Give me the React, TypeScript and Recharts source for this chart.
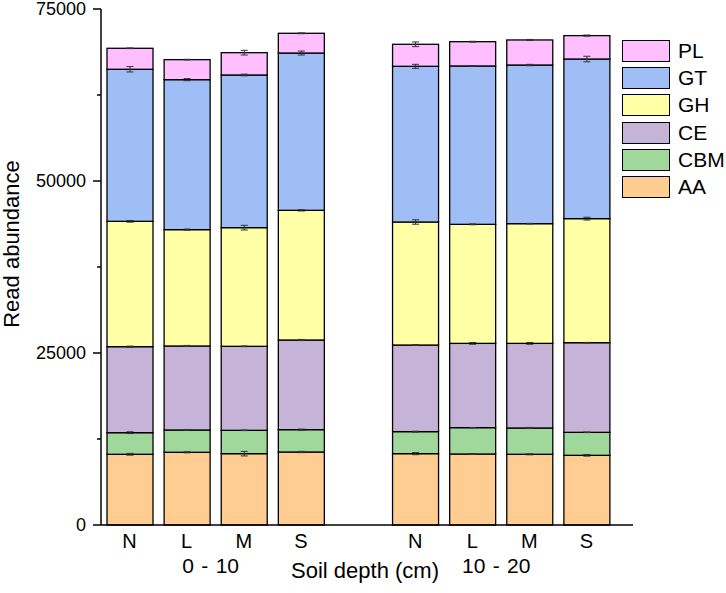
import { Bar, BarChart, Legend, XAxis, YAxis } from "recharts";

const FONT = '"Liberation Sans", Arial, sans-serif';

// soil depth groups and treatments
const DEPTHS = ["0 - 10", "10 - 20"];
const TREATMENTS = ["N", "L", "M", "S"];

// segment sizes per bar (N,L,M,S for 0-10 then N,L,M,S for 10-20)
const AA = [10280, 10570, 10370, 10610, 10370, 10320, 10280, 10130];
const CBM = [3140, 3240, 3390, 3250, 3200, 3830, 3820, 3340];
const CE = [12500, 12210, 12210, 13030, 12590, 12250, 12300, 13030];
const GH = [18220, 16910, 17250, 18850, 17880, 17300, 17400, 18030];
const GT = [22100, 21800, 22190, 22860, 22630, 23020, 23060, 23200];
const PL = [3050, 2910, 3240, 2870, 3200, 3530, 3640, 3400];

// error (±) at the top of each segment
const AA_ERR = [130, 80, 330, 90, 150, 40, 80, 120];
const CBM_ERR = [130, 50, 40, 80, 60, 30, 80, 40];
const CE_ERR = [80, 80, 50, 80, 50, 130, 130, 40];
const GH_ERR = [120, 80, 340, 100, 320, 60, 40, 200];
const GT_ERR = [390, 150, 120, 290, 290, 30, 100, 400];
const PL_ERR = [50, 50, 340, 60, 340, 60, 80, 80];

const Y_TICKS = [0, 12500, 25000, 37500, 50000, 62500, 75000];

const SERIES = [
  { key: "AA", values: AA, err: AA_ERR, color: "#FFCC91" },
  { key: "CBM", values: CBM, err: CBM_ERR, color: "#A0D89C" },
  { key: "CE", values: CE, err: CE_ERR, color: "#C6B4D8" },
  { key: "GH", values: GH, err: GH_ERR, color: "#FFFFA6" },
  { key: "GT", values: GT, err: GT_ERR, color: "#9EBEF5" },
  { key: "PL", values: PL, err: PL_ERR, color: "#FFBEFF" },
];

const rows: any[] = [];
DEPTHS.forEach((d, gi) => {
  if (gi > 0) rows.push({ id: "gap", label: "" });
  TREATMENTS.forEach((t, ti) => {
    const i = gi * TREATMENTS.length + ti;
    const row: any = { id: `${d}|${t}`, label: t, group: ti === 1 ? d : "" };
    SERIES.forEach((s) => {
      row[s.key] = s.values[i];
      row[`${s.key}_err`] = s.err[i];
    });
    rows.push(row);
  });
});

function SegShape(props: any) {
  const { x, y, width, height, fill } = props;
  if (!height) return null;
  return <rect x={x} y={y} width={width} height={height} fill={fill} stroke="#000" strokeWidth={1.3} />;
}

// top segment also draws every error bar so they sit above all rects
function TopShape(props: any) {
  const { x, y, width, height, fill, payload } = props;
  if (!height || !payload || !payload.PL) return null;
  const k = height / payload.PL;
  const bottom = y + height;
  const cx = x + width / 2;
  let below = 0;
  SERIES.forEach((s) => {
    if (s.key !== "PL") below += payload[s.key];
  });
  let cum = 0;
  const bars = SERIES.map((s) => {
    cum += payload[s.key];
    const yy = bottom - (cum - below) * k;
    const e = payload[`${s.key}_err`] * k;
    return (
      <g key={s.key} stroke="#333" strokeWidth={1}>
        <line x1={cx} x2={cx} y1={yy - e} y2={yy + e} />
        <line x1={cx - 3.5} x2={cx + 3.5} y1={yy - e} y2={yy - e} />
        <line x1={cx - 3.5} x2={cx + 3.5} y1={yy + e} y2={yy + e} />
      </g>
    );
  });
  return (
    <g>
      <rect x={x} y={y} width={width} height={height} fill={fill} stroke="#000" strokeWidth={1.3} />
      {bars}
    </g>
  );
}

function XTick(props: any) {
  const { x, y, index } = props;
  const row = rows[index] || {};
  return (
    <g fontFamily={FONT} fill="#000">
      <text x={x} y={y + 23} textAnchor="middle" fontSize={20}>
        {row.label}
      </text>
      {row.group ? (
        <text x={x + 24} y={y + 48} textAnchor="middle" fontSize={21} style={{ wordSpacing: 1.5 }}>
          {row.group}
        </text>
      ) : null}
    </g>
  );
}

function YTick(props: any) {
  const { x, y, payload } = props;
  const major = payload.value % 25000 === 0;
  return (
    <g>
      <line x1={x - (major ? 8 : 4)} x2={x} y1={y} y2={y} stroke="#000" strokeWidth={1.5} />
      {major ? (
        <text x={x - 15} y={y} dy={6} textAnchor="end" fontSize={18} fontFamily={FONT} fill="#000">
          {payload.value}
        </text>
      ) : null}
    </g>
  );
}

function YTitle(props: any) {
  const vb = props.viewBox || { x: 0, y: 0, height: 0 };
  const cy = vb.y + vb.height / 2 - 23;
  return (
    <text x={19} y={cy} transform={`rotate(-90 19 ${cy})`} textAnchor="middle" fontSize={22} fontFamily={FONT} fill="#000">
      Read abundance
    </text>
  );
}

function XTitle(props: any) {
  const vb = props.viewBox || { x: 0, y: 0, width: 0 };
  return (
    <text x={vb.x + vb.width / 2 - 2} y={578} textAnchor="middle" fontSize={22} fontFamily={FONT} fill="#000">
      Soil depth (cm)
    </text>
  );
}

function LegendBox() {
  return (
    <div style={{ position: "relative", width: 104, height: 170, fontFamily: FONT }}>
      {[...SERIES].reverse().map((s, i) => (
        <div
          key={s.key}
          style={{ position: "absolute", left: 0, top: i * 27.2, height: 22, display: "flex", alignItems: "center" }}
        >
          <div
            style={{ width: 48, height: 22, boxSizing: "border-box", background: s.color, border: "1.3px solid #000" }}
          />
          <span style={{ marginLeft: 8, fontSize: 21, lineHeight: "22px", color: "#000" }}>{s.key}</span>
        </div>
      ))}
    </div>
  );
}

export default function App() {
  return (
    <div style={{ position: "absolute", left: 0, top: 0, background: "#fff" }}>
      <BarChart width={726} height={593} data={rows} margin={{ top: 9, right: 93, left: 0, bottom: 0 }} barSize={46}>
        <XAxis
          dataKey="id"
          interval={0}
          height={68}
          padding={{ left: 0, right: 18 }}
          tickLine={false}
          tickSize={0}
          tickMargin={0}
          axisLine={{ stroke: "#000", strokeWidth: 1.5 }}
          tick={<XTick />}
          label={{ content: <XTitle /> }}
        />
        <YAxis
          width={101}
          domain={[0, 75000]}
          ticks={Y_TICKS}
          interval={0}
          tickLine={false}
          tickSize={0}
          tickMargin={0}
          axisLine={{ stroke: "#000", strokeWidth: 1.5 }}
          tick={<YTick />}
          label={{ content: <YTitle /> }}
        />
        <Legend
          layout="horizontal"
          verticalAlign="middle"
          align="center"
          content={<LegendBox />}
          wrapperStyle={{ left: 622, top: 40, width: 104 }}
        />
        {SERIES.map((s) => (
          <Bar
            key={s.key}
            dataKey={s.key}
            stackId="a"
            fill={s.color}
            isAnimationActive={false}
            shape={s.key === "PL" ? <TopShape /> : <SegShape />}
          />
        ))}
      </BarChart>
    </div>
  );
}
